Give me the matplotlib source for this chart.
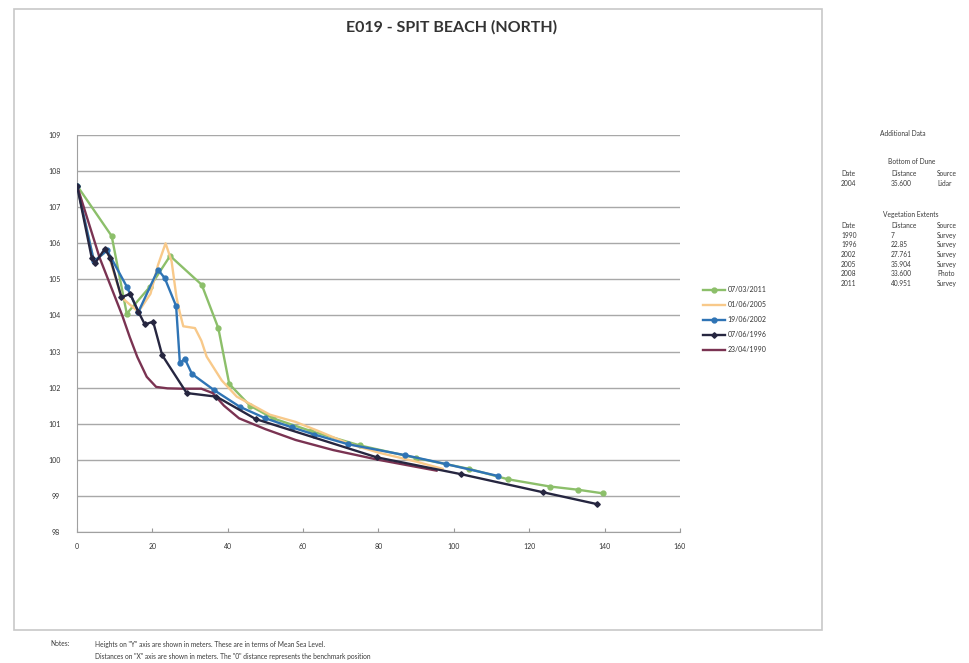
import matplotlib
matplotlib.use("Agg")
import matplotlib.pyplot as plt
from matplotlib.patches import Rectangle

plt.rcParams['font.family'] = ['Lato', 'DejaVu Sans']

# profile surveys: distance from benchmark (m) vs height (m MSL)
x_2011 = [0, 9.2, 13.2, 19.4, 24.7, 33.1, 37.5, 40.4, 45.9, 52, 62, 75, 90, 104, 114.4, 125.5, 133, 139.6]
y_2011 = [107.6, 106.2, 104.05, 104.8, 105.65, 104.85, 103.65, 102.1, 101.5, 101.15, 100.8, 100.4,
          100.05, 99.75, 99.46, 99.26, 99.17, 99.07]

x_2005 = [0, 4.5, 8, 11.8, 16.3, 19.5, 21.5, 23.5, 25.1, 26.4, 27.3, 28.2, 31.3, 33, 34.4, 38.4,
          42.4, 51.2, 58, 64, 72, 80, 90, 97]
y_2005 = [107.6, 105.5, 105.8, 104.5, 104.1, 104.6, 105.4, 106.0, 105.5, 104.5, 104.07, 103.7,
          103.65, 103.3, 102.86, 102.2, 101.75, 101.25, 101.05, 100.8, 100.45, 100.2, 99.95, 99.75]

x_2002 = [0, 4.5, 8, 13.2, 16.3, 21.5, 23.3, 26.3, 27.3, 28.6, 30.5, 36.4, 43.2, 50, 57, 63, 72, 87, 98, 111.8]
y_2002 = [107.6, 105.5, 105.8, 104.8, 104.1, 105.27, 105.03, 104.26, 102.68, 102.8, 102.38, 101.93,
          101.47, 101.15, 100.9, 100.7, 100.43, 100.13, 99.88, 99.55]

x_1996 = [0, 3.9, 4.8, 7.4, 8.8, 11.8, 14.1, 16.3, 18, 20.2, 22.6, 29.1, 37, 47.4, 79.5, 102, 123.7, 138.1]
y_1996 = [107.6, 105.6, 105.45, 105.85, 105.6, 104.5, 104.6, 104.1, 103.75, 103.83, 102.9, 101.85,
          101.75, 101.13, 100.07, 99.6, 99.1, 98.77]

x_1990 = [0, 3, 6, 9, 12, 14, 16, 18.5, 21, 24, 28, 33, 36, 39, 43, 50, 58, 68, 80, 95.4]
y_1990 = [107.6, 106.6, 105.6, 104.8, 104.0, 103.4, 102.85, 102.3, 102.02, 101.98, 101.97, 101.97,
          101.85, 101.5, 101.15, 100.85, 100.55, 100.27, 100.0, 99.7]

labels = ['07/03/2011', '01/06/2005', '19/06/2002', '07/06/1996', '23/04/1990']

x_ticks = [0, 20, 40, 60, 80, 100, 120, 140, 160]
y_ticks = [98, 99, 100, 101, 102, 103, 104, 105, 106, 107, 108, 109]

dune_rows = [['2004', '35.600', 'Lidar']]
veg_rows = [['1990', '7', 'Survey'],
            ['1996', '22.85', 'Survey'],
            ['2002', '27.761', 'Survey'],
            ['2005', '35.904', 'Survey'],
            ['2008', '33.600', 'Photo'],
            ['2011', '40.951', 'Survey']]

fig = plt.figure(figsize=(9.7, 6.63), dpi=100)
W, H = 970, 663

# chart frame
fig.patches.append(Rectangle((14 / W, 1 - 630 / H), 808 / W, 621 / H, transform=fig.transFigure,
                             fill=False, edgecolor='#c8c8c8', linewidth=1.2))

ax = fig.add_axes([77 / W, 1 - 532 / H, 603 / W, 397 / H])

ax.plot(x_2011, y_2011, color='#8cbf6a', lw=1.7, marker='o', ms=3.5, label=labels[0], zorder=3)
ax.plot(x_2005, y_2005, color='#f8c98a', lw=1.7, label=labels[1], zorder=3)
ax.plot(x_2002, y_2002, color='#2f74b5', lw=1.7, marker='o', ms=3.5, label=labels[2], zorder=4)
ax.plot(x_1996, y_1996, color='#262640', lw=1.7, marker='D', ms=2.8, label=labels[3], zorder=5)
ax.plot(x_1990, y_1990, color='#7a3352', lw=1.7, label=labels[4], zorder=4)

ax.set_xlim(0, 160)
ax.set_ylim(98, 109)
ax.set_xticks(x_ticks)
ax.set_yticks(y_ticks)
ax.tick_params(axis='both', labelsize=5, colors='#333333', length=0, pad=12)
ax.tick_params(axis='x', length=3, direction='in', color='#999999', pad=8)
ax.grid(axis='y', color='#a8a8a8', lw=1)
ax.set_axisbelow(True)
for s in ['top', 'right']:
    ax.spines[s].set_visible(False)
for s in ['left', 'bottom']:
    ax.spines[s].set_color('#a0a0a0')

ax.legend(loc='upper left', bbox_to_anchor=(620 / 603, 1 - 145 / 397), frameon=False,
          fontsize=5, handlelength=3.2, labelspacing=1.15, handletextpad=0.3, labelcolor='#333333')

fig.text(452 / W, 1 - 27 / H, 'E019 - SPIT BEACH (NORTH)', ha='center', va='center',
         fontsize=11.5, fontweight='bold', color='#333333')

# additional data panel
tc = '#3a3a3a'
fs = 4.8
fig.text(903 / W, 1 - 134 / H, 'Additional Data', ha='center', va='center', fontsize=fs, color=tc)
fig.text(912 / W, 1 - 161 / H, 'Bottom of Dune', ha='center', va='center', fontsize=fs, color=tc)
cols = [841 / W, 891 / W, 937 / W]
head = ['Date', 'Distance', 'Source']
for c, h in zip(cols, head):
    fig.text(c, 1 - 174 / H, h, va='center', fontsize=fs, color=tc)
for i, row in enumerate(dune_rows):
    for c, v in zip(cols, row):
        fig.text(c, 1 - (183.5 + 10 * i) / H, v, va='center', fontsize=fs, color=tc)
fig.text(911 / W, 1 - 214 / H, 'Vegetation Extents', ha='center', va='center', fontsize=fs, color=tc)
for c, h in zip(cols, head):
    fig.text(c, 1 - 226 / H, h, va='center', fontsize=fs, color=tc)
for i, row in enumerate(veg_rows):
    for c, v in zip(cols, row):
        fig.text(c, 1 - (235 + 9.7 * i) / H, v, va='center', fontsize=fs, color=tc)

# notes
fig.text(50 / W, 1 - 644 / H, 'Notes:', va='center', fontsize=fs, color=tc)
fig.text(95 / W, 1 - 644 / H, 'Heights on "Y" axis are shown in meters. These are in terms of Mean Sea Level.',
         va='center', fontsize=fs, color=tc)
fig.text(95 / W, 1 - 656 / H,
         'Distances on "X" axis are shown in meters. The "0" distance represents the benchmark position',
         va='center', fontsize=fs, color=tc)

fig.savefig('out.png', dpi=100)
